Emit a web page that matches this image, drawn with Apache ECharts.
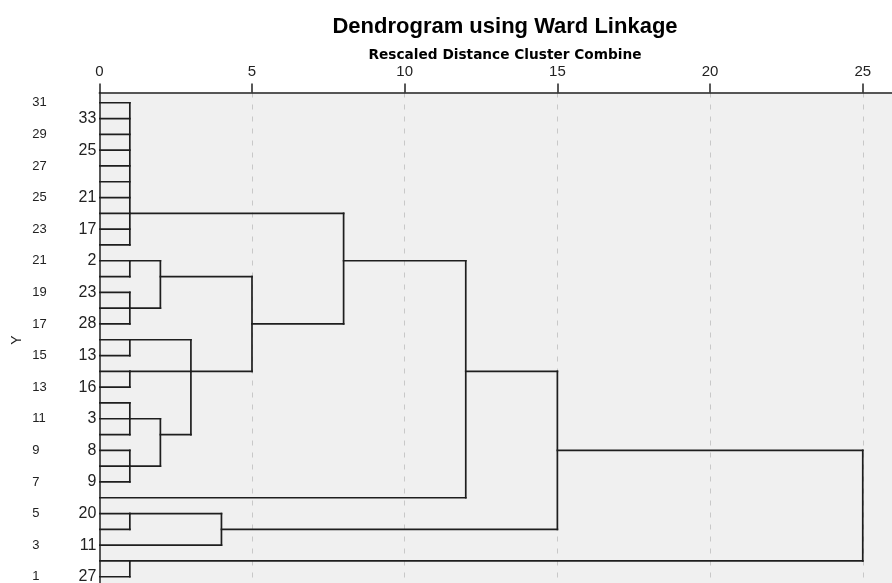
<!DOCTYPE html>
<html>
<head>
<meta charset="utf-8">
<script src="https://cdn.jsdelivr.net/npm/echarts@6/dist/echarts.min.js"></script>
<style>
  html, body { margin: 0; padding: 0; background: #fff; }
  #chart { width: 892px; height: 583px; }
</style>
</head>
<body>
<div id="chart"></div>
<script>
// outer Y axis labels (odd values)
const yTicks = [1, 3, 5, 7, 9, 11, 13, 15, 17, 19, 21, 23, 25, 27, 29, 31];
// case labels shown next to the leaves
const caseY = [30, 28, 25, 23, 21, 19, 17, 15, 13, 11, 9, 7, 5, 3, 1];
const caseLabel = ['33', '25', '21', '17', '2', '23', '28', '13', '16', '3', '8', '9', '20', '11', '27'];

// merges: distance, the Y of each joined branch, where each branch starts
const mergeDist = [1, 1, 1, 2, 1, 1, 1, 1, 2, 3, 5, 8, 12, 1, 4, 15, 1, 25];
const mergeKids = [
  [31, 30, 29, 28, 27, 26, 25, 24, 23, 22],
  [21, 20],
  [19, 18, 17],
  [21, 18],
  [16, 15],
  [14, 13],
  [12, 11, 10],
  [9, 8, 7],
  [11, 8],
  [16, 14, 10],
  [20, 14],
  [24, 17],
  [21, 6],
  [5, 4],
  [5, 3],
  [14, 4],
  [2, 1],
  [9, 2]
];
const mergeFrom = [
  [0, 0, 0, 0, 0, 0, 0, 0, 0, 0],
  [0, 0],
  [0, 0, 0],
  [1, 1],
  [0, 0],
  [0, 0],
  [0, 0, 0],
  [0, 0, 0],
  [1, 1],
  [1, 1, 2],
  [2, 3],
  [1, 5],
  [8, 0],
  [0, 0],
  [1, 0],
  [12, 4],
  [0, 0],
  [15, 1]
];

// build segments [x1, y1, x2, y2]
let segs = [];
for (let i = 0; i < mergeDist.length; i++) {
  let d = mergeDist[i];
  let kids = mergeKids[i];
  for (let k = 0; k < kids.length; k++) {
    segs.push([mergeFrom[i][k], kids[k], d, kids[k]]);
  }
  segs.push([d, Math.min(...kids), d, Math.max(...kids)]);
}

var chartDom = document.getElementById('chart');
var myChart = echarts.init(chartDom);
var option;

const font = 'Liberation Sans, Arial, sans-serif';
const yMin = 0.3, yMax = 31.65;

option = {
  backgroundColor: '#fff',
  animation: false,
  title: [
    {
      text: 'Dendrogram using Ward Linkage',
      left: 500,
      top: 11,
      textAlign: 'center',
      textStyle: { fontFamily: font, fontSize: 22, fontWeight: 'bold', color: '#000' }
    },
    {
      text: 'Rescaled Distance Cluster Combine',
      left: 500,
      top: 43,
      textAlign: 'center',
      textStyle: { fontFamily: 'DejaVu Sans', fontSize: 13.7, fontWeight: 'bold', color: '#000' }
    }
  ],
  grid: {
    left: 99.3,
    top: 92.5,
    right: -1.3,
    bottom: -4.8,
    outerBoundsMode: 'none',
    show: true,
    backgroundColor: '#f0f0f0',
    borderWidth: 0
  },
  xAxis: {
    type: 'value',
    position: 'top',
    min: 0,
    max: 26,
    interval: 5,
    axisLine: { show: true, lineStyle: { color: '#222', width: 1.5 } },
    axisTick: { show: true, inside: false, length: 9, lineStyle: { color: '#222', width: 1.5 } },
    axisLabel: { fontFamily: font, fontSize: 15, color: '#222', margin: 13, showMaxLabel: false },
    splitLine: { show: true, showMinLine: false, lineStyle: { color: '#c8c8c8', type: [5, 7], width: 1 } }
  },
  yAxis: [
    {
      type: 'value',
      min: yMin,
      max: yMax,
      name: 'Y',
      nameLocation: 'middle',
      nameRotate: 90,
      nameGap: 75,
      nameMoveOverlap: false,
      nameTextStyle: { fontFamily: font, fontSize: 14, color: '#222' },
      axisLine: { show: true, lineStyle: { color: '#222', width: 1.5 } },
      axisTick: { show: false },
      splitLine: { show: false },
      axisLabel: {
        customValues: yTicks,
        fontFamily: font,
        fontSize: 13,
        color: '#222',
        align: 'left',
        margin: 67
      }
    },
    {
      type: 'value',
      position: 'left',
      min: yMin,
      max: yMax,
      axisLine: { show: false },
      axisTick: { show: false },
      splitLine: { show: false },
      axisLabel: {
        customValues: caseY,
        fontFamily: font,
        fontSize: 16,
        color: '#222',
        margin: 3,
        formatter: function (v) {
          let i = caseY.indexOf(Math.round(v));
          return i >= 0 ? caseLabel[i] : '';
        }
      }
    }
  ],
  series: [
    {
      type: 'custom',
      clip: true,
      data: segs,
      encode: { x: [0, 2], y: [1, 3] },
      renderItem: function (params, api) {
        let p1 = api.coord([api.value(0), api.value(1)]);
        let p2 = api.coord([api.value(2), api.value(3)]);
        return {
          type: 'line',
          shape: { x1: p1[0], y1: p1[1], x2: p2[0], y2: p2[1] },
          style: { stroke: '#1e1e1e', lineWidth: 1.7, lineCap: 'square' }
        };
      }
    }
  ]
};

option && myChart.setOption(option);
</script>
</body>
</html>
